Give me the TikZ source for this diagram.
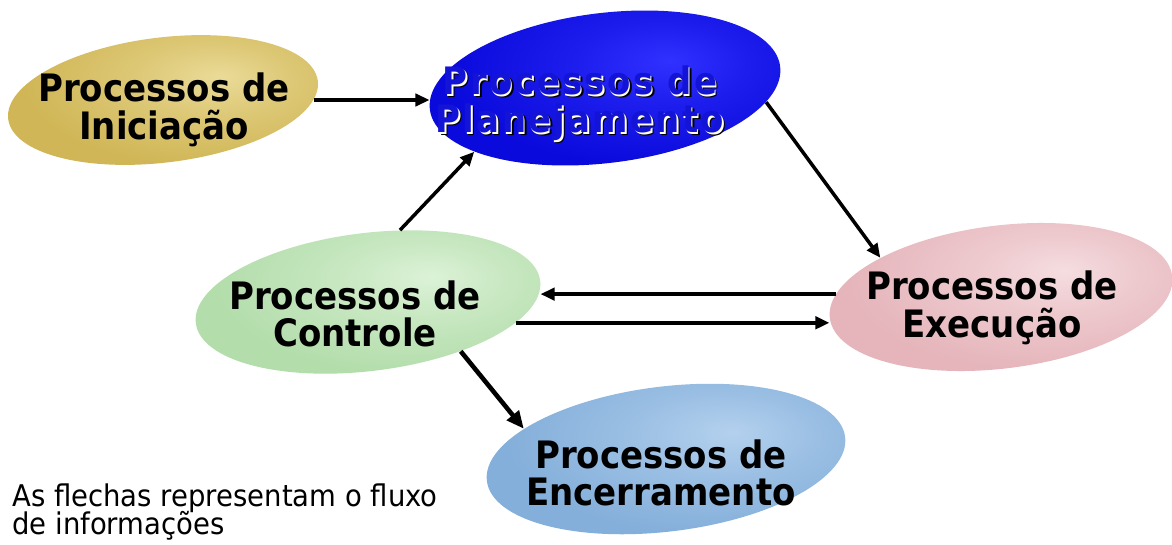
\documentclass[tikz,border=0pt]{standalone}
\usepackage{fontspec}
\setmainfont{DejaVu Sans}
\newfontfamily\lblfont{DejaVu Sans}[FakeStretch=0.9]
\newfontfamily\notefont{DejaVu Sans}[FakeStretch=0.92]
\usetikzlibrary{shapes.geometric,arrows.meta}
\definecolor{planText}{RGB}{20,20,215}
\newcommand{\embossed}[1]{\leavevmode\rlap{\raisebox{-1.7pt}{\kern1.7pt\textcolor{black}{#1}}}\rlap{\raisebox{-0.85pt}{\kern0.85pt\textcolor{white}{#1}}}\textcolor{planText}{#1}}
\colorlet{bIn}{white}\colorlet{bMid}{gray}\colorlet{bOut}{black}
\pgfdeclareradialshading[bIn,bMid,bOut]{blobshade}{\pgfpoint{9bp}{8bp}}{%
  color(0bp)=(bIn); color(12bp)=(bIn!50!bMid); color(28bp)=(bMid); color(46bp)=(bMid); color(64bp)=(bOut); color(90bp)=(bOut)}
\begin{document}
\begin{tikzpicture}[x=0.02cm,y=-0.02cm,
  blob/.style n args={3}{ellipse, rotate=7, inner sep=0pt, draw=none,
     /utils/exec={\definecolor{bIn}{HTML}{#1}\definecolor{bMid}{HTML}{#2}\definecolor{bOut}{HTML}{#3}},
     shading=blobshade},
  lbl/.style={font=\lblfont\bfseries\fontsize{21.5}{21.5}\selectfont, align=center, inner sep=0pt, text=black},
  plbl/.style={font=\lblfont\bfseries\fontsize{21.5}{21.5}\selectfont\addfontfeatures{LetterSpace=6}, align=center, inner sep=0pt},
  note/.style={font=\notefont\fontsize{17}{17}\selectfont, anchor=base west, inner sep=0pt},
  conn/.style={line width=2pt, -{Triangle[length=8pt,width=7pt]}},
  thickconn/.style={line width=2.6pt, -{Triangle[length=10pt,width=8.5pt]}}]
\useasboundingbox[fill=white] (0,0) rectangle (1172,544);

\node[blob={EADB98}{D0B656}{A88D35}, minimum width=6.24cm, minimum height=2.50cm] (ini) at (163,100) {};
\node[blob={3030FF}{0A0ADC}{0000A8}, minimum width=7.06cm, minimum height=3.00cm] (plan) at (605,88) {};
\node[blob={DCF2D7}{B3DDAB}{8CC487}, minimum width=6.94cm, minimum height=2.76cm] (ctrl) at (368,302) {};
\node[blob={F5DDE0}{E5B5BB}{C8929A}, minimum width=6.90cm, minimum height=2.86cm] (exe) at (1001,297) {};
\node[blob={B4D1EE}{84AFDA}{5A86B8}, minimum width=7.22cm, minimum height=2.90cm] (enc) at (666,459) {};

\node[lbl] (tini) at (164,110) {Processos de\\Iniciação};
\node[plbl] (tplan) at (580,105) {\embossed{Processos de}\\\embossed{Planejamento}};
\node[lbl] (tctrl) at (355,314) {Processos de\\Controle};
\node[lbl] (texe) at (992,308) {Processos de\\Execução};
\node[lbl] (tenc) at (661,473) {Processos de\\Encerramento};

\draw[conn] (ini.-7) -- (ini.-7 -| plan.west);
\draw[conn] (ctrl.59) -- (plan.199);
\draw[conn] (plan.-12) -- (exe.155);
\draw[conn] (exe.172) -- (exe.172 -| ctrl.east);
\draw[conn] (ctrl.-15) -- (ctrl.-15 -| exe.west);
\draw[thickconn] (ctrl.-35) -- (enc.161);

\node[note] (note1) at (12,506) {As flechas representam o fluxo};
\node[note] (note2) at (12,534) {de informações};
\end{tikzpicture}
\end{document}
